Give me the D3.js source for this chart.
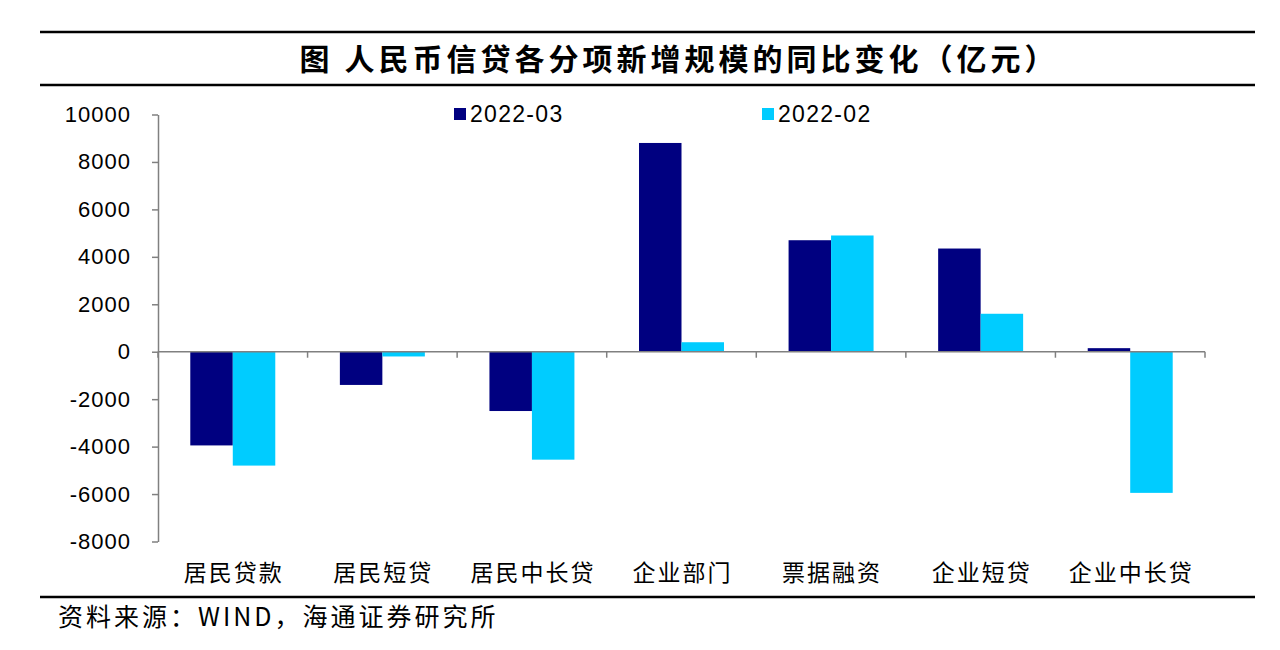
<!DOCTYPE html>
<html>
<head>
<meta charset="utf-8">
<script src="https://cdn.jsdelivr.net/npm/d3@7"></script>
<style>
  body { margin: 0; background: #fff; }
  svg { display: block; }
</style>
</head>
<body>
<svg id="chart" width="1280" height="650"></svg>
<script>
// data (亿元)
const categories = ['居民贷款', '居民短贷', '居民中长贷', '企业部门', '票据融资', '企业短贷', '企业中长贷'];
const seriesNames = ['2022-03', '2022-02'];
const values2203 = [-3950, -1400, -2500, 8800, 4700, 4350, 150];
const values2202 = [-4800, -200, -4550, 400, 4900, 1600, -5950];
const yTicks = [10000, 8000, 6000, 4000, 2000, 0, -2000, -4000, -6000, -8000];

const colors = ['#000080', '#00CCFF'];
const cjk = '"Noto Sans CJK SC", "Noto Sans", sans-serif';
const latin = '"Liberation Sans", Arial, sans-serif';

let svg = d3.select('#chart');

let plotLeft = 158, plotRight = 1205, plotTop = 114.5, plotBottom = 541.5;

let y = d3.scaleLinear()
  .domain([-8000, 10000])
  .range([plotBottom, plotTop]);

let x = d3.scaleBand()
  .domain(categories)
  .range([plotLeft, plotRight])
  .paddingInner(0)
  .paddingOuter(0);

let x1 = d3.scaleBand()
  .domain(seriesNames)
  .range([0, x.bandwidth()])
  .paddingInner(0)
  .paddingOuter(0.76);

// rules round title and footer
[32, 85, 597].forEach(function(yy) {
  svg.append('line')
    .attr('x1', 40).attr('x2', 1255)
    .attr('y1', yy).attr('y2', yy)
    .attr('stroke', '#000')
    .attr('stroke-width', 2.5);
});

svg.append('text')
  .attr('x', 679)
  .attr('y', 70)
  .attr('text-anchor', 'middle')
  .attr('font-family', cjk)
  .attr('font-weight', 'bold')
  .attr('font-size', 30)
  .attr('letter-spacing', 4)
  .text('图  人民币信贷各分项新增规模的同比变化（亿元）');

// bars
let rows = categories.map(function(c, i) {
  return { cat: c, vals: [values2203[i], values2202[i]] };
});

let groups = svg.selectAll('.grp')
  .data(rows)
  .enter().append('g')
  .attr('class', 'grp')
  .attr('transform', function(d) { return 'translate(' + x(d.cat) + ',0)'; });

groups.selectAll('rect')
  .data(function(d) { return d.vals.map(function(v, j) { return { name: seriesNames[j], v: v, j: j }; }); })
  .enter().append('rect')
  .attr('x', function(d) { return x1(d.name); })
  .attr('width', x1.bandwidth())
  .attr('y', function(d) { return y(Math.max(0, d.v)); })
  .attr('height', function(d) { return Math.abs(y(d.v) - y(0)); })
  .attr('fill', function(d) { return colors[d.j]; });

// y axis
let yAxis = d3.axisLeft(y)
  .tickValues(yTicks)
  .tickSize(6)
  .tickSizeOuter(0)
  .tickPadding(21)
  .tickFormat(function(d) { return String(d); });

let yg = svg.append('g')
  .attr('transform', 'translate(' + plotLeft + ',0)')
  .call(yAxis);
yg.select('.domain').attr('stroke', '#808080').attr('stroke-width', 1.5);
yg.selectAll('.tick line').attr('stroke', '#808080').attr('stroke-width', 1.5);
yg.selectAll('.tick text')
  .attr('font-family', latin)
  .attr('font-size', 22)
  .attr('letter-spacing', 1)
  .attr('fill', '#000');

// x axis along zero, ticks at category boundaries
let bounds = categories.map(function(c) { return x(c); }).concat([plotRight]);
let xg = svg.append('g');
xg.append('line')
  .attr('x1', plotLeft).attr('x2', plotRight)
  .attr('y1', y(0)).attr('y2', y(0))
  .attr('stroke', '#808080').attr('stroke-width', 1.5);
xg.selectAll('.xt')
  .data(bounds)
  .enter().append('line')
  .attr('class', 'xt')
  .attr('x1', function(d) { return d; }).attr('x2', function(d) { return d; })
  .attr('y1', y(0)).attr('y2', y(0) + 6)
  .attr('stroke', '#808080').attr('stroke-width', 1.5);

svg.selectAll('.cat')
  .data(categories)
  .enter().append('text')
  .attr('class', 'cat')
  .attr('x', function(d) { return x(d) + x.bandwidth() / 2 + 1; })
  .attr('y', 581)
  .attr('text-anchor', 'middle')
  .attr('font-family', cjk)
  .attr('font-size', 23)
  .attr('letter-spacing', 2)
  .text(function(d) { return d; });

// legend
let legendX = [454, 762];
let lg = svg.selectAll('.lg')
  .data(seriesNames)
  .enter().append('g')
  .attr('class', 'lg')
  .attr('transform', function(d, i) { return 'translate(' + legendX[i] + ',108)'; });
lg.append('rect')
  .attr('width', 12).attr('height', 12)
  .attr('fill', function(d, i) { return colors[i]; });
lg.append('text')
  .attr('x', 16)
  .attr('y', 13.5)
  .attr('font-family', latin)
  .attr('font-size', 23)
  .attr('letter-spacing', 1.3)
  .text(function(d) { return d; });

svg.append('text')
  .attr('x', 58)
  .attr('y', 626)
  .attr('font-family', cjk)
  .attr('font-size', 25)
  .attr('letter-spacing', 3)
  .text('资料来源：WIND，海通证券研究所');
</script>
</body>
</html>
